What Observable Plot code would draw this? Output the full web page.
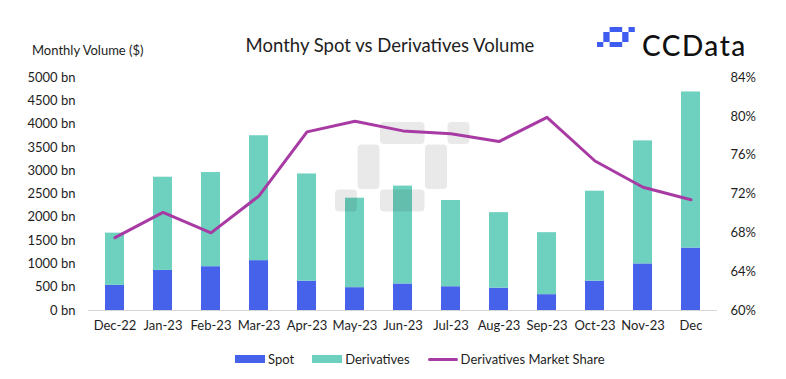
<!DOCTYPE html>
<html>
<head>
<meta charset="utf-8">
<script src="https://cdn.jsdelivr.net/npm/d3@7"></script>
<script src="https://cdn.jsdelivr.net/npm/@observablehq/plot@0.6"></script>
<style>
  html, body { margin: 0; padding: 0; background: #fff; }
  #wrap { position: relative; width: 786px; height: 379px; font-family: Lato, "Open Sans", sans-serif; color: #1e1e1e; overflow: hidden; }
  .abs { position: absolute; white-space: nowrap; }
  #title { left: 0; width: 780px; top: 34px; text-align: center; font-size: 18.5px; line-height: 22px; }
  #ylab { left: 32px; top: 42px; font-size: 13px; line-height: 16px; }
  #logo-text { left: 642px; top: 28px; font-size: 28px; letter-spacing: 1.5px; line-height: 34px; font-weight: 500; color: #111; }
  #logo-icon { left: 597px; top: 27px; }
  #chart { left: 0; top: 0; }
  #legend { left: 235px; top: 350px; display: flex; gap: 18px; font-size: 13px; line-height: 18px; }
  .item { display: flex; align-items: center; }
  .sw { width: 30px; margin-right: 3px; }
</style>
</head>
<body>
<div id="wrap">
  <div id="chart" class="abs"></div>
  <div id="title" class="abs">Monthy Spot vs Derivatives Volume</div>
  <div id="ylab" class="abs">Monthly Volume ($)</div>
  <svg id="logo-icon" class="abs" width="40" height="22" viewBox="0 0 40 22">
    <g fill="#3f5cf0">
      <rect x="12.6" y="0" width="12.6" height="5"/>
      <rect x="31.5" y="0" width="6.3" height="5"/>
      <rect x="6.3" y="5" width="6.3" height="10"/>
      <rect x="25.2" y="5" width="6.3" height="10"/>
      <rect x="12.6" y="15" width="12.6" height="5"/>
      <rect x="0" y="15" width="6.3" height="5"/>
    </g>
  </svg>
  <div id="logo-text" class="abs">CCData</div>
  <div id="legend" class="abs"></div>
</div>
<script>
// ---- data ----
const months = ["Dec-22","Jan-23","Feb-23","Mar-23","Apr-23","May-23","Jun-23","Jul-23","Aug-23","Sep-23","Oct-23","Nov-23","Dec"];
const spot = [540, 860, 940, 1070, 630, 490, 570, 510, 480, 340, 630, 1000, 1340];
const derivatives = [1120, 2000, 2020, 2680, 2300, 1920, 2100, 1850, 1620, 1330, 1930, 2640, 3350];
const marketShare = [67.5, 70.1, 68.0, 71.8, 78.4, 79.5, 78.5, 78.2, 77.4, 79.9, 75.4, 72.7, 71.4];
const volumeTicks = [0, 500, 1000, 1500, 2000, 2500, 3000, 3500, 4000, 4500, 5000];
const shareTicks = [60, 64, 68, 72, 76, 80, 84];
const seriesNames = ["Spot", "Derivatives", "Derivatives Market Share"];

const colors = { spot: "#4762ea", deriv: "#6ed0bf", share: "#a83aa4" };

// ---- derived tables ----
const volMax = 5000, shareMin = 60, shareMax = 84;
const toVol = s => (s - shareMin) / (shareMax - shareMin) * volMax;
const fromVol = v => shareMin + v / volMax * (shareMax - shareMin);

const stacked = [];
months.forEach((m, i) => {
  stacked.push({ month: m, type: "Spot", value: spot[i] });
  stacked.push({ month: m, type: "Derivatives", value: derivatives[i] });
});
const lineRows = months.map((m, i) => ({ month: m, share: marketShare[i] }));

// decorative watermark (logo shape), drawn beneath the line
function watermark() {
  const g = d3.create("svg:g").attr("fill", "rgba(0,0,0,0.085)");
  const u = 22.5, x0 = 335, y0 = 122;
  const blocks = [[2,0,2,1],[5,0,1,1],[1,1,1,2],[4,1,1,2],[2,3,2,1],[0,3,1,1]];
  for (const [c, r, w, h] of blocks) {
    g.append("rect").attr("x", x0 + c * u).attr("y", y0 + r * u)
      .attr("width", w * u - 0.5).attr("height", h * u - 0.5).attr("rx", 4);
  }
  return g.node();
}

const chart = Plot.plot({
  width: 786,
  height: 340,
  marginTop: 77,
  marginBottom: 30,
  marginLeft: 88,
  marginRight: 69,
  style: { fontFamily: "Lato, 'Open Sans', sans-serif", fontSize: "13px", color: "#1e1e1e", background: "transparent" },
  x: { type: "band", domain: months, paddingInner: 0.6, paddingOuter: 0.3 },
  y: { domain: [0, volMax] },
  color: { domain: ["Spot", "Derivatives"], range: [colors.spot, colors.deriv] },
  marks: [
    Plot.barY(stacked, { x: "month", y: "value", fill: "type", order: ["Spot", "Derivatives"] }),
    Plot.ruleY([0], { stroke: "#d6d6d6", strokeWidth: 1 }),
    watermark,
    Plot.line(lineRows, { x: "month", y: d => toVol(d.share), stroke: colors.share, strokeWidth: 3, strokeLinejoin: "round", strokeLinecap: "round" }),
    Plot.axisY(volumeTicks, { anchor: "left", tickSize: 0, tickPadding: 13, tickFormat: d => d + " bn", label: null }),
    Plot.axisY(shareTicks.map(toVol), { anchor: "right", tickSize: 0, tickPadding: 13, tickFormat: v => Math.round(fromVol(v)) + "%", label: null }),
    Plot.axisX({ tickSize: 0, tickPadding: 10, label: null })
  ]
});
document.getElementById("chart").appendChild(chart);

// legend
const legend = document.getElementById("legend");
const swatches = [
  { name: seriesNames[0], color: colors.spot, h: 8 },
  { name: seriesNames[1], color: colors.deriv, h: 8 },
  { name: seriesNames[2], color: colors.share, h: 3 }
];
for (const s of swatches) {
  const item = document.createElement("div");
  item.className = "item";
  const sw = document.createElement("span");
  sw.className = "sw";
  sw.style.height = s.h + "px";
  sw.style.background = s.color;
  if (s.h === 3) sw.style.borderRadius = "2px";
  const t = document.createElement("span");
  t.textContent = s.name;
  item.appendChild(sw); item.appendChild(t);
  legend.appendChild(item);
}
</script>
</body>
</html>
